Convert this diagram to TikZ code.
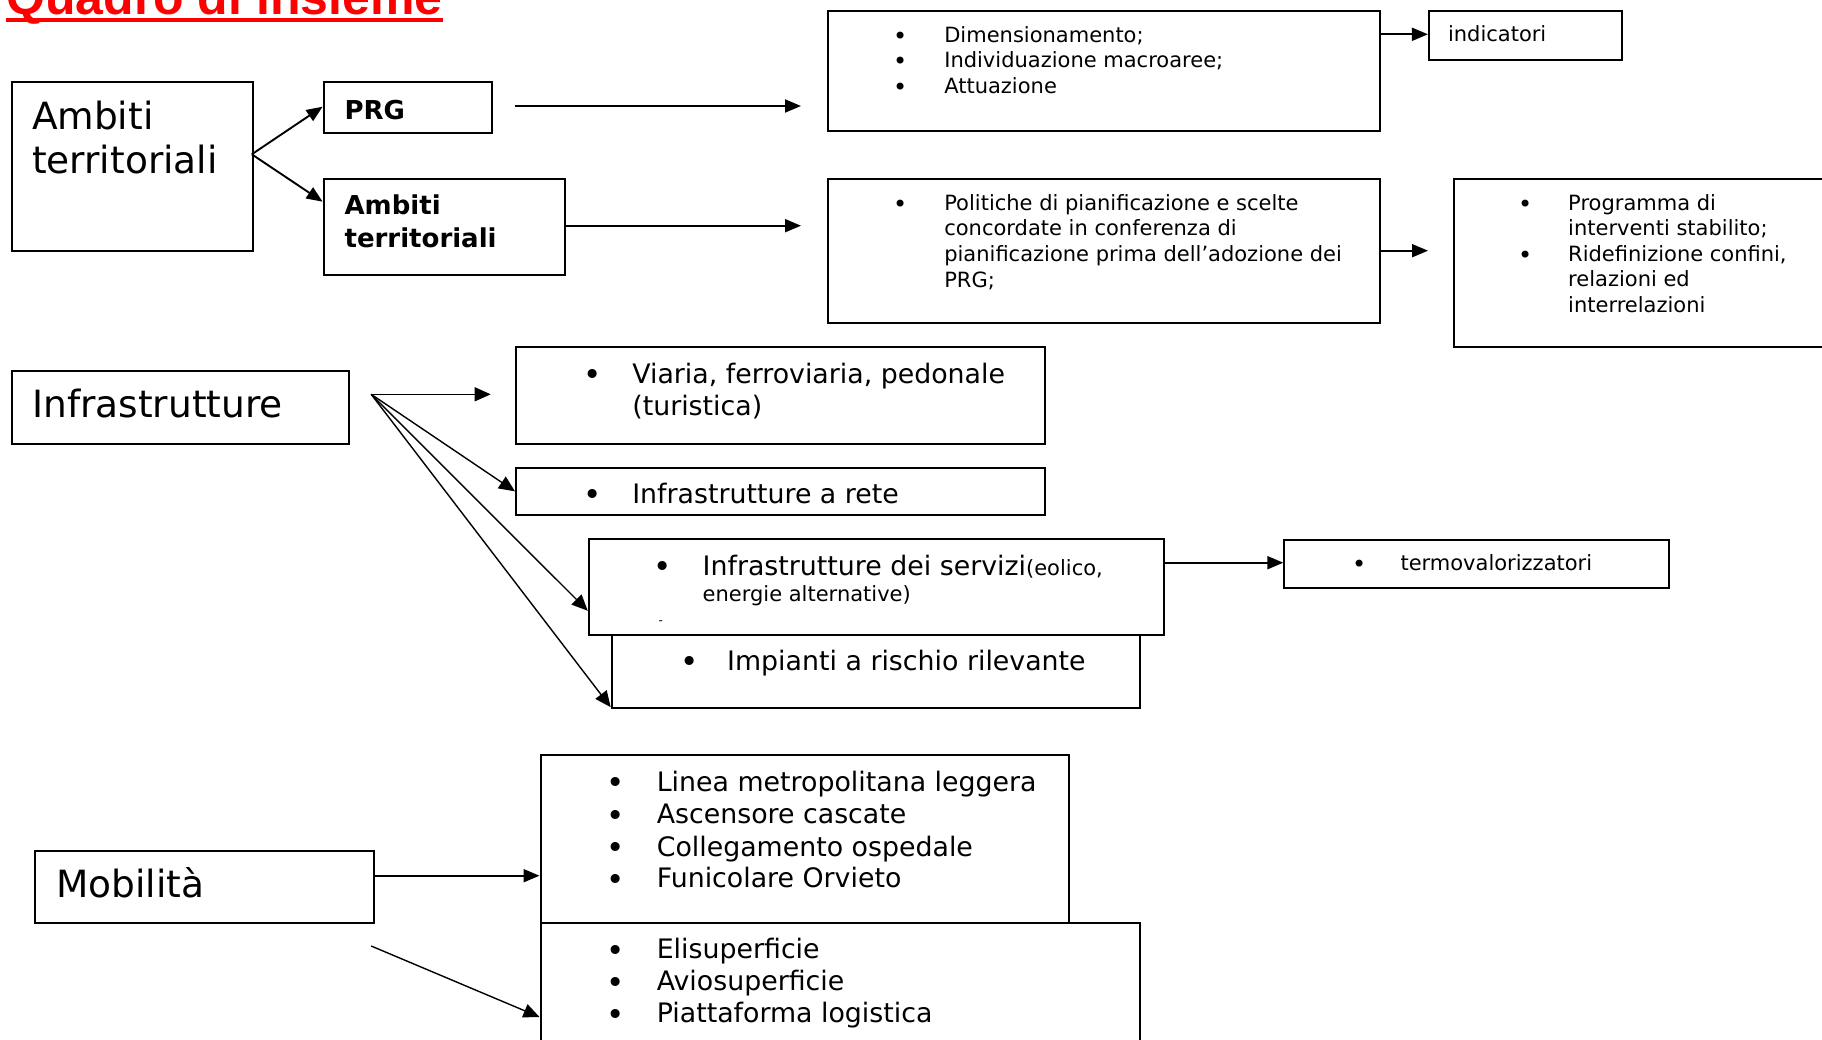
\documentclass[tikz,border=0pt]{standalone}
\usepackage{fontspec}
\setmainfont{DejaVu Sans}
\newfontfamily\titlefont{Liberation Sans}
\usetikzlibrary{arrows.meta}
\definecolor{titlered}{RGB}{255,0,0}
\tikzset{
  box/.style={draw, line width=2pt, fill=white, inner sep=0pt, anchor=north west},
  txt/.style={inner sep=0pt, anchor=base west},
  big/.style={txt, font=\fontsize{37.5}{45}\selectfont},
  mid/.style={txt, font=\fontsize{26.8}{32}\selectfont},
  sml/.style={txt, font=\fontsize{21}{25}\selectfont},
  midb/.style={txt, font=\fontsize{31}{32}\selectfont, yshift=-2.5pt},
  smlb/.style={txt, font=\fontsize{24}{25}\selectfont, yshift=-2pt},
  bld/.style={txt, font=\fontsize{26}{32}\selectfont\bfseries},
  arr/.style={line width=1.9pt, -{Triangle[length=16pt,width=13pt]}},
  thinarr/.style={line width=1.4pt, -{Triangle[length=16pt,width=14pt]}},
}
\begin{document}
\begin{tikzpicture}[x=1pt,y=-1pt]
\useasboundingbox (0,0) rectangle (1822,1040);
% title
\node[txt, font=\fontsize{50}{60}\selectfont\titlefont\bfseries, text=titlered] (title) at (6,15) {Quadro di insieme};
\draw[titlered, line width=3.7pt] ([yshift=-5.3pt]title.base west) -- ([yshift=-5.3pt]title.base east);

% boxes
\node[box, minimum width=241.1pt, minimum height=168.7pt] (A) at (10.7,81.3) {};
\node[box, minimum width=168.8pt, minimum height=50.4pt] (PRG) at (322.6,81.3) {};
\node[box, minimum width=241.1pt, minimum height=96pt] (AT) at (322.6,178) {};
\node[box, minimum width=552.9pt, minimum height=120pt] (Dim) at (826.5,10) {};
\node[box, minimum width=192.7pt, minimum height=49pt] (Ind) at (1427.9,10) {};
\node[box, minimum width=552.9pt, minimum height=144pt] (Pol) at (826.5,178.3) {};
\node[box, minimum width=380pt, minimum height=168.3pt] (Prog) at (1452.5,177.7) {};
\node[box, minimum width=337.5pt, minimum height=72.7pt] (Infra) at (10.7,370) {};
\node[box, minimum width=528.5pt, minimum height=96.7pt] (Via) at (515,346) {};
\node[box, minimum width=528.5pt, minimum height=47.3pt] (Rete) at (515,466.7) {};
\node[box, minimum width=528.1pt, minimum height=72.4pt] (Imp) at (610.7,634.3) {};
\node[box, minimum width=575.5pt, minimum height=96pt] (Serv) at (587.8,538.3) {};
\node[box, minimum width=384.8pt, minimum height=47.7pt] (Termo) at (1283.3,539) {};
\node[box, minimum width=338.3pt, minimum height=72pt] (Mob) at (34.4,850) {};
\node[box, minimum width=528.1pt, minimum height=168pt] (Linea) at (539.5,754) {};
\node[box, minimum width=599.3pt, minimum height=140pt] (Eli) at (539.5,922) {};

% texts
\node[big] (a1) at (31.8,129.3) {Ambiti};
\node[big] (a2) at (31.8,174) {territoriali};
\node[bld] (p1) at (344.4,119.3) {PRG};
\node[bld] (at1) at (344.4,215) {Ambiti};
\node[bld] (at2) at (344.4,247.3) {territoriali};

\foreach \yy/\tt [count=\i] in {42.3/{Dimensionamento;},67.8/{Individuazione macroaree;},93.3/{Attuazione}}{
  \node[smlb] (db\i) at (893,\yy) {•};
  \node[sml] (dt\i) at (944.1,\yy) {\tt};
}
\node[sml] (ind) at (1447.8,41.8) {indicatori};

\node[smlb] (pb1) at (893,210.3) {•};
\node[sml] (pt1) at (944.1,210.3) {Politiche di pianificazione e scelte};
\node[sml] (pt2) at (944.1,236) {concordate in conferenza di};
\node[sml] (pt3) at (944.1,261.6) {pianificazione prima dell’adozione dei};
\node[sml] (pt4) at (944.1,287.3) {PRG;};

\node[smlb] (rb1) at (1518,210.3) {•};
\node[sml] (rt1) at (1568,210.3) {Programma di};
\node[sml] (rt2) at (1568,235.8) {interventi stabilito;};
\node[smlb] (rb2) at (1518,261.3) {•};
\node[sml] (rt3) at (1568,261.3) {Ridefinizione confini,};
\node[sml] (rt4) at (1568,286.8) {relazioni ed};
\node[sml] (rt5) at (1568,312.3) {interrelazioni};

\node[big] (i1) at (32.1,417.3) {Infrastrutture};
\node[midb] (vb) at (583,383) {•};
\node[mid] (vt1) at (632.1,383) {Viaria, ferroviaria, pedonale};
\node[mid] (vt2) at (632.1,415) {(turistica)};
\node[midb] (reb) at (583,503.3) {•};
\node[mid] (ret) at (632.1,503.3) {Infrastrutture a rete};
\node[midb] (sb) at (653.5,575.3) {•};
\node[mid] (st1) at (702.5,575.3) {Infrastrutture dei servizi\fontsize{21}{25}\selectfont(eolico,};
\node[sml] (st2) at (702.5,601.3) {energie alternative)};
\node[txt, font=\fontsize{12}{14}\selectfont] (sd) at (658.5,624) {-};
\node[smlb] (tb) at (1352,570.8) {•};
\node[sml] (tt) at (1400.3,570.8) {termovalorizzatori};
\node[midb] (ib) at (680.5,670) {•};
\node[mid] (it) at (727,670) {Impianti a rischio rilevante};

\node[big] (m1) at (55.9,897.5) {Mobilità};
\foreach \yy/\tt [count=\i] in {791.3/{Linea metropolitana leggera},823.6/{Ascensore cascate},856/{Collegamento ospedale},887.9/{Funicolare Orvieto}}{
  \node[midb] (lb\i) at (606,\yy) {•};
  \node[mid] (lt\i) at (656.6,\yy) {\tt};
}
\foreach \yy/\tt [count=\i] in {958.8/{Elisuperficie},990.8/{Aviosuperficie},1022.6/{Piattaforma logistica}}{
  \node[midb] (eb\i) at (606,\yy) {•};
  \node[mid] (et\i) at (656.6,\yy) {\tt};
}

% connector free ends
\coordinate (Asrc) at (251.8,154.3);
\coordinate (prgS) at (514.7,106);
\coordinate (prgE) at (801,106);
\coordinate (atE) at (801,225.7);
\coordinate (polE) at (1428,250.7);
\coordinate (inS) at (371.2,394.3);
\coordinate (inE) at (490.7,394.3);
\coordinate (mobS) at (371.2,946);

% connectors
\draw[arr] (Asrc) -- ([yshift=-25.4pt]PRG.north west);
\draw[arr] (Asrc) -- ([yshift=-23.7pt]AT.north west);
\draw[arr] (prgS) -- (prgE);
\draw[arr] ([yshift=-47.7pt]AT.north east) -- (atE);
\draw[arr] ([yshift=-24.3pt]Dim.north east) -- ([yshift=-24.3pt]Ind.north west);
\draw[arr] ([yshift=-72.4pt]Pol.north east) -- (polE);
\draw[thinarr] (inS) -- (inE);
\draw[thinarr] (inS) -- (Rete.west);
\draw[thinarr] (inS) -- ([yshift=25.5pt]Serv.south west);
\draw[thinarr] (inS) -- ([yshift=1.5pt]Imp.south west);
\draw[arr] ([yshift=-24.4pt]Serv.north east) -- ([yshift=-23.7pt]Termo.north west);
\draw[arr] ([yshift=11.3pt]Mob.east) -- ([yshift=11.3pt]Mob.east -| Linea.west);
\draw[thinarr] (mobS) -- ([yshift=-95pt]Eli.north west);
\end{tikzpicture}
\end{document}
